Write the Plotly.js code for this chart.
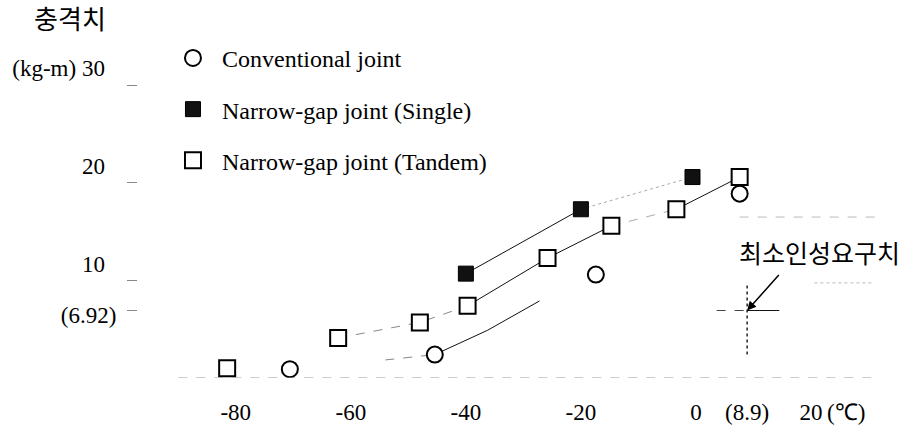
<!DOCTYPE html>
<html><head><meta charset="utf-8">
<script src="https://cdn.plot.ly/plotly-3.0.1.min.js"></script>
<style>html,body{margin:0;padding:0;background:#fff}#chart{width:905px;height:432px}</style>
</head><body><div id="chart"></div>
<script>
// ---- data ----
const seriesNames = ['Conventional joint', 'Narrow-gap joint (Single)', 'Narrow-gap joint (Tandem)'];
const convX = [-70.6, -45.4, -17.4, 7.6];
const convY = [0.9, 2.4, 10.6, 18.9];
const singleX = [-40, -20, -0.6];
const singleY = [10.7, 17.3, 20.6];
const tandemX = [-81.5, -62.2, -48, -39.7, -25.8, -14.7, -3.4, 7.6];
const tandemY = [1.0, 4.1, 5.7, 7.4, 12.3, 15.6, 17.3, 20.6];
const convFitX = [-54, -45.4, -36.2, -27.2];
const convFitY = [1.85, 2.4, 4.9, 7.9];
const xTickVals = [-80, -60, -40, -20, 0, 8.9, 20];
const xTickText = ['-80', '-60', '-40', '-20', '0', '(8.9)', '20'];
const yTickVals = [10, 20, 30];
const yTickText = ['10&nbsp;&nbsp;', '20&nbsp;&nbsp;', '(kg-m) 30&nbsp;&nbsp;'];
const reqTemp = 8.9;
const reqEnergy = 6.92;
const reqTickText = ['(6.92)'];
const yTitle = '충격치';
const unitText = '(℃)';
const reqLabel = '최소인성요구치';

// ---- styling ----
const serif = 'Liberation Serif, Times New Roman, serif';
const kor = 'Noto Sans CJK KR, sans-serif';
const xRange = [-97, 32];
const yRange = [0, 32.6];

function seg(xs, ys, i0, i1, dash, color, width) {
  return {x: xs.slice(i0, i1 + 1), y: ys.slice(i0, i1 + 1), mode: 'lines',
    line: {color: color, width: width || 1, dash: dash}, showlegend: false, hoverinfo: 'skip'};
}

const traces = [
  seg(convFitX, convFitY, 0, 1, 'dash', '#888'),
  seg(convFitX, convFitY, 1, 3, 'solid', '#111'),
  seg(singleX, singleY, 0, 1, 'solid', '#111'),
  seg(singleX, singleY, 1, 2, 'dot', '#aaa'),
  seg(tandemX, tandemY, 1, 3, 'dash', '#888'),
  seg(tandemX, tandemY, 3, 5, 'solid', '#111'),
  seg(tandemX, tandemY, 5, 6, 'dash', '#aaa'),
  seg(tandemX, tandemY, 6, 7, 'solid', '#111'),
  {x: convX, y: convY, name: seriesNames[0], mode: 'markers', legendgroup: 'a',
   marker: {symbol: 'circle', size: 16, color: '#fff', line: {color: '#000', width: 2}}},
  {x: singleX, y: singleY, name: seriesNames[1], mode: 'markers', legendgroup: 'b',
   marker: {symbol: 'square', size: 15, color: '#111', line: {color: '#000', width: 1}}},
  {x: tandemX, y: tandemY, name: seriesNames[2], mode: 'markers', legendgroup: 'c',
   marker: {symbol: 'square', size: 16, color: '#fff', line: {color: '#000', width: 2}}},
  {x: [reqTemp], y: [reqEnergy], yaxis: 'y2', mode: 'markers', marker: {opacity: 0},
   showlegend: false, hoverinfo: 'skip'}
];

const tickFont = {family: serif, size: 23, color: '#000'};

const layout = {
  width: 905, height: 432,
  margin: {l: 138, r: 25, t: 60, b: 54},
  paper_bgcolor: '#fff', plot_bgcolor: '#fff',
  title: {text: yTitle, x: 70 / 905, xanchor: 'center', y: 1 - 20 / 432, yanchor: 'middle',
          font: {family: kor, size: 26, color: '#000'}},
  xaxis: {range: xRange, tickvals: xTickVals, ticktext: xTickText, showgrid: false,
          zeroline: false, showline: false, ticks: '', tickfont: tickFont, ticklabelstandoff: 18},
  yaxis: {range: yRange, tickvals: yTickVals, ticktext: yTickText, showgrid: false,
          zeroline: false, showline: false, ticks: 'outside', ticklen: 10, tickwidth: 1,
          tickcolor: '#888', tickfont: tickFont, ticklabelstandoff: 6, ticklabelshift: -17},
  yaxis2: {overlaying: 'y', anchor: 'x', side: 'left', range: yRange, tickvals: [reqEnergy],
           ticktext: reqTickText, showgrid: false, zeroline: false, showline: false,
           ticks: 'outside', ticklen: 10, tickwidth: 1, tickcolor: '#888', tickfont: tickFont,
           ticklabelstandoff: 6, ticklabelshift: 4},
  showlegend: true,
  legend: {x: 0.035, y: 1.076, xanchor: 'left', yanchor: 'top', traceorder: 'grouped',
           tracegroupgap: 17, itemwidth: 48, bgcolor: 'rgba(0,0,0,0)',
           font: {family: serif, size: 24, color: '#000'}},
  shapes: [
    {type: 'line', xref: 'x', yref: 'y', x0: -90, x1: 32, y0: 0, y1: 0,
     line: {color: '#999', width: 1, dash: 'dash'}},
    {type: 'line', xref: 'x', yref: 'y', x0: 7.6, x1: 32, y0: 16.5, y1: 16.5,
     line: {color: '#bbb', width: 1, dash: 'dash'}},
    {type: 'line', xref: 'x', yref: 'y', x0: 20.6, x1: 31, y0: 9.75, y1: 9.75,
     line: {color: '#bbb', width: 1, dash: 'dot'}},
    {type: 'line', xref: 'x', yref: 'y', x0: reqTemp, x1: reqTemp, y0: 2.4, y1: 9.75,
     line: {color: '#222', width: 1.5, dash: 'dot'}},
    {type: 'line', xref: 'x', yref: 'y', x0: 3.6, x1: reqTemp, y0: reqEnergy, y1: reqEnergy,
     line: {color: '#444', width: 1, dash: 'dash'}},
    {type: 'line', xref: 'x', yref: 'y', x0: reqTemp, x1: 14.5, y0: reqEnergy, y1: reqEnergy,
     line: {color: '#111', width: 1}}
  ],
  annotations: [
    {x: 21.5, y: 12.9, xref: 'x', yref: 'y', text: reqLabel, showarrow: false,
     font: {family: kor, size: 25, color: '#000'}},
    {x: 20, y: 0, xref: 'x', yref: 'paper', text: unitText, showarrow: false,
     xanchor: 'left', yanchor: 'middle', xshift: 14, yshift: -34, font: tickFont},
    {x: reqTemp, y: reqEnergy, xref: 'x', yref: 'y', text: '', showarrow: true,
     ax: 33, ay: -37, arrowhead: 2, arrowsize: 1.2, arrowwidth: 1.5, arrowcolor: '#000', standoff: 0}
  ]
};

Plotly.newPlot('chart', traces, layout, {displayModeBar: false, staticPlot: true});
</script>
</body></html>
